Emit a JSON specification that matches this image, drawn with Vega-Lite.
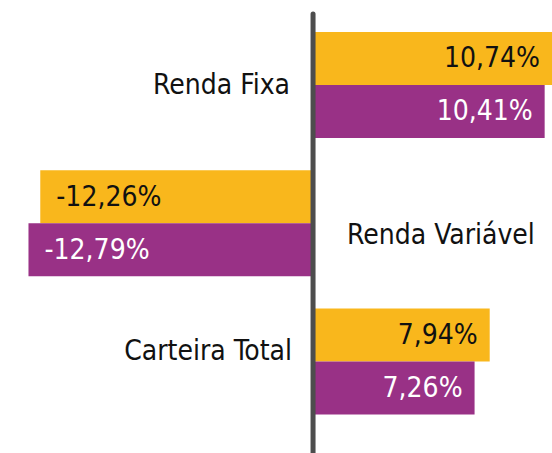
{
  "$schema": "https://vega.github.io/schema/vega-lite/v6.json",
  "width": 552,
  "height": 439,
  "autosize": {"type": "none"},
  "padding": {"left": 0, "right": 0, "top": 14, "bottom": 0},
  "background": "white",
  "config": {
    "view": {"stroke": null},
    "font": "DejaVu Sans Condensed, Open Sans, sans-serif",
    "locale": {
      "number": {"decimal": ",", "thousands": ".", "grouping": [3], "currency": ["R$ ", ""], "minus": "-"}
    }
  },
  "data": {
    "values": [
      {"categoria": "Renda Fixa", "serie": "Série A", "valor": 0.1074},
      {"categoria": "Renda Fixa", "serie": "Série B", "valor": 0.1041},
      {"categoria": "Renda Variável", "serie": "Série A", "valor": -0.1226},
      {"categoria": "Renda Variável", "serie": "Série B", "valor": -0.1279},
      {"categoria": "Carteira Total", "serie": "Série A", "valor": 0.0794},
      {"categoria": "Carteira Total", "serie": "Série B", "valor": 0.0726}
    ]
  },
  "layer": [
    {
      "mark": {"type": "bar"},
      "encoding": {
        "y": {"field": "categoria", "type": "nominal", "sort": ["Renda Fixa", "Renda Variável", "Carteira Total"], "axis": null,
              "scale": {"paddingInner": 0.234, "paddingOuter": 0.204, "align": 0.319}},
        "yOffset": {"field": "serie", "type": "nominal", "sort": ["Série A", "Série B"], "scale": {"paddingInner": 0, "paddingOuter": 0}},
        "x": {"field": "valor", "type": "quantitative", "axis": null, "scale": {"domain": [-0.1407, 0.1074], "nice": false, "zero": false}},
        "color": {"field": "serie", "type": "nominal", "legend": null, "scale": {"domain": ["Série A", "Série B"], "range": ["#F9B71C", "#993186"]}}
      }
    },
    {
      "transform": [{"filter": "datum.valor > 0"}],
      "mark": {"type": "text", "align": "right", "baseline": "middle", "dx": -12, "dy": 1, "fontSize": 28},
      "encoding": {
        "y": {"field": "categoria", "type": "nominal", "sort": ["Renda Fixa", "Renda Variável", "Carteira Total"]},
        "yOffset": {"field": "serie", "type": "nominal", "sort": ["Série A", "Série B"]},
        "x": {"field": "valor", "type": "quantitative"},
        "text": {"field": "valor", "type": "quantitative", "format": ".2%"},
        "color": {"condition": {"test": "datum.serie === 'Série B'", "value": "#ffffff"}, "value": "#111111"}
      }
    },
    {
      "transform": [{"filter": "datum.valor < 0"}],
      "mark": {"type": "text", "align": "left", "baseline": "middle", "dx": 16, "dy": 1, "fontSize": 28},
      "encoding": {
        "y": {"field": "categoria", "type": "nominal", "sort": ["Renda Fixa", "Renda Variável", "Carteira Total"]},
        "yOffset": {"field": "serie", "type": "nominal", "sort": ["Série A", "Série B"]},
        "x": {"field": "valor", "type": "quantitative"},
        "text": {"field": "valor", "type": "quantitative", "format": ".2%"},
        "color": {"condition": {"test": "datum.serie === 'Série B'", "value": "#ffffff"}, "value": "#111111"}
      }
    },
    {
      "transform": [{"filter": "datum.serie === 'Série A' && datum.categoria === 'Renda Fixa'"}],
      "mark": {"type": "text", "align": "right", "baseline": "middle", "dx": -23, "dy": 1, "fontSize": 28, "color": "#111111"},
      "encoding": {
        "y": {"field": "categoria", "type": "nominal", "sort": ["Renda Fixa", "Renda Variável", "Carteira Total"]},
        "x": {"datum": 0},
        "text": {"field": "categoria"}
      }
    },
    {
      "transform": [{"filter": "datum.serie === 'Série A' && datum.categoria === 'Renda Variável'"}],
      "mark": {"type": "text", "align": "left", "baseline": "middle", "dx": 34, "dy": 13, "fontSize": 28, "color": "#111111"},
      "encoding": {
        "y": {"field": "categoria", "type": "nominal", "sort": ["Renda Fixa", "Renda Variável", "Carteira Total"]},
        "x": {"datum": 0},
        "text": {"field": "categoria"}
      }
    },
    {
      "transform": [{"filter": "datum.serie === 'Série A' && datum.categoria === 'Carteira Total'"}],
      "mark": {"type": "text", "align": "right", "baseline": "middle", "dx": -21, "dy": -10, "fontSize": 28, "color": "#111111"},
      "encoding": {
        "y": {"field": "categoria", "type": "nominal", "sort": ["Renda Fixa", "Renda Variável", "Carteira Total"]},
        "x": {"datum": 0},
        "text": {"field": "categoria"}
      }
    },
    {
      "transform": [{"filter": "datum.serie === 'Série A' && datum.categoria === 'Renda Fixa'"}],
      "mark": {"type": "rule", "color": "#4d4d4d", "strokeWidth": 5, "strokeCap": "round"},
      "encoding": {
        "x": {"datum": 0}
      }
    }
  ]
}
